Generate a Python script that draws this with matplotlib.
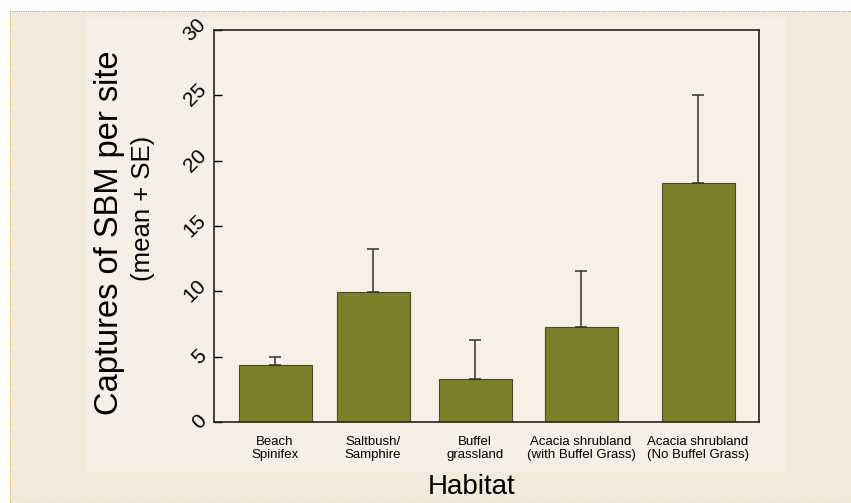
import matplotlib
matplotlib.use("Agg")
import matplotlib.pyplot as plt
from matplotlib.patches import Rectangle

# data
habitats = ["Beach\nSpinifex", "Saltbush/\nSamphire", "Buffel\ngrassland",
            "Acacia shrubland\n(with Buffel Grass)", "Acacia shrubland\n(No Buffel Grass)"]
mean_captures = [4.4, 9.95, 3.3, 7.25, 18.3]
se_captures = [0.6, 3.3, 3.0, 4.3, 6.7]
yticks = [0, 5, 10, 15, 20, 25, 30]

# layout (bar centres are not quite evenly spaced in the original)
xpos = [0, 0.98, 2.0, 3.06, 4.23]

plt.rcParams["font.family"] = ["Liberation Sans", "DejaVu Sans"]

fig = plt.figure(figsize=(8.51, 5.03), dpi=100, facecolor="white")
W, H = 851, 503

# beige page with dotted border, lighter panel behind the chart
fig.patches.append(Rectangle((10 / W, 0), 1, 1 - 11 / H, transform=fig.transFigure,
                             facecolor="#F3EADC", edgecolor="#D9A646", lw=0.8,
                             linestyle=(0, (1, 1)), zorder=-2))
fig.patches.append(Rectangle((85 / W, 1 - 472 / H), (785 - 85) / W, (472 - 17) / H,
                             transform=fig.transFigure, facecolor="#F6EFE5",
                             edgecolor="none", zorder=-1))

ax = fig.add_axes([214 / W, 1 - 422 / H, (759 - 214) / W, (422 - 30) / H])
ax.set_facecolor("#F7F0E6")

ax.bar(xpos, mean_captures, width=0.73, color="#7E7F2B", edgecolor="#4A4A22",
       linewidth=0.8, zorder=2)
ax.errorbar(xpos, mean_captures, yerr=[[0] * len(se_captures), se_captures],
            fmt="none", ecolor="#333333", elinewidth=1.1, capsize=4.5, capthick=1.1,
            zorder=3)

ax.set_xlim(-0.61, 4.84)
ax.set_ylim(0, 30)
ax.set_yticks(yticks)
ax.set_yticklabels([str(t) for t in yticks], rotation=45, fontsize=15,
                   va="center", ha="right")
ax.tick_params(axis="y", direction="in", length=6, width=1, pad=3)
ax.set_xticks(xpos)
ax.set_xticklabels(habitats, fontsize=9.5, linespacing=1.1)
ax.tick_params(axis="x", length=0, pad=10)

for s in ax.spines.values():
    s.set_color("#222222")
    s.set_linewidth(1.2)

fig.text(110 / W, 1 - 233 / H, "Captures of SBM per site", rotation=90,
         fontsize=23.5, ha="center", va="center")
fig.text(143 / W, 1 - 208 / H, "(mean + SE)", rotation=90,
         fontsize=18.5, ha="center", va="center")
fig.text(472 / W, 1 - 487 / H, "Habitat", fontsize=20, ha="center", va="center")

fig.savefig("out.png", dpi=100, facecolor=fig.get_facecolor())
